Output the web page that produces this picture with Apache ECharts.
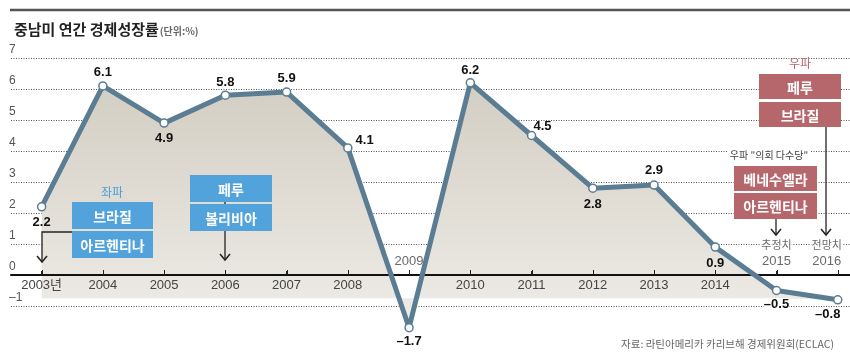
<!DOCTYPE html>
<html><head><meta charset="utf-8">
<script src="https://cdn.jsdelivr.net/npm/echarts@6/dist/echarts.min.js"></script>
<style>html,body{margin:0;padding:0;background:#fff}#c{width:850px;height:359px}</style>
</head><body><div id="c"></div>
<script>
// ---- data ----
const years = [2003, 2004, 2005, 2006, 2007, 2008, 2009, 2010, 2011, 2012, 2013, 2014, 2015, 2016];
const growth = [2.2, 6.1, 4.9, 5.8, 5.9, 4.1, -1.7, 6.2, 4.5, 2.8, 2.9, 0.9, -0.5, -0.8];
const yTickValues = [-1, 0, 1, 2, 3, 4, 5, 6, 7];
const belowYearLabels = [2003, 2004, 2005, 2006, 2007, 2008, 2010, 2011, 2012, 2013, 2014];
const aboveYearLabels = [2009, 2015, 2016];
const yearNotes = {2015: '추정치', 2016: '전망치'};
const firstYearSuffix = '년';
const titleText = '중남미 연간 경제성장률';
const unitText = '(단위:%)';
const sourceText = '자료: 라틴아메리카 카리브해 경제위원회(ECLAC)';
const leftHeader = '좌파';
const leftGroup1 = ['브라질', '아르헨티나'];
const leftGroup2 = ['페루', '볼리비아'];
const rightHeader = '우파';
const rightGroup1 = ['페루', '브라질'];
const rightNote = '우파 "의회 다수당"';
const rightGroup2 = ['베네수엘라', '아르헨티나'];

// ---- styling ----
const NUM = "'Liberation Sans', 'Noto Sans CJK KR', sans-serif";
const KR = "'Noto Sans CJK KR', 'Liberation Sans', sans-serif";
const LINE = '#5b7d93';
const BLUE = '#52a2dc';
const ROSE = '#b5676c';
const X_MIN = 2002.5, X_MAX = 2016.2;
const W = 850, H = 359, G_LEFT = 11, G_TOP = 58, G0_BOTTOM = 84, G1_BOTTOM = 22;
const fmt = v => String(v).replace('-', '–');

const labelCfg = [
  {position: 'bottom', distance: 4},
  {position: 'top', distance: 2},
  {position: 'bottom', distance: 4},
  {position: 'top', distance: 2},
  {position: 'top', distance: 2},
  {position: 'right', distance: 3, offset: [0, -7]},
  {position: 'bottom', distance: 2, backgroundColor: '#fff'},
  {position: 'top', distance: 1},
  {position: 'top', distance: 1, offset: [11, 3]},
  {position: 'bottom', distance: 5},
  {position: 'top', distance: 3},
  {position: 'bottom', distance: 5},
  {position: 'bottom', distance: 3, backgroundColor: '#fff'},
  {position: 'bottom', distance: 3, offset: [-10, 0], backgroundColor: '#fff'}
];

const pts = years.map((y, i) => [y, growth[i]]);
const lineData = years.map((y, i) => ({value: [y, growth[i]], label: labelCfg[i]}));

const chart = echarts.init(document.getElementById('c'), null, {renderer: 'canvas'});

function box(x, y, w, h, color, text) {
  return [
    {type: 'rect', shape: {x: x, y: y, width: w, height: h}, style: {fill: color}, z: 20},
    {type: 'text', x: x + w / 2, y: y + h / 2 + 1, z: 21,
     style: {text: text, fill: '#fff', font: 'bold 14px ' + KR, align: 'center', verticalAlign: 'middle'}}
  ];
}
function arrow(points) {
  const tip = points[points.length - 1];
  return [
    {type: 'polyline', shape: {points: points}, style: {stroke: '#222', lineWidth: 1.3, fill: null}, z: 19},
    {type: 'polyline', shape: {points: [[tip[0] - 5, tip[1] - 6], tip, [tip[0] + 5, tip[1] - 6]]},
     style: {stroke: '#222', lineWidth: 1.5, fill: null}, z: 19}
  ];
}

const graphics = [
  {type: 'line', shape: {x1: 10, y1: 10, x2: 850, y2: 10}, style: {stroke: '#555', lineWidth: 2.5}},
  {type: 'text', x: 112, y: 192, z: 21, style: {text: leftHeader, fill: '#4a9fd9', font: '12px ' + KR, align: 'center', verticalAlign: 'middle'}},
  ...box(72, 202, 81, 27, BLUE, leftGroup1[0]),
  ...box(72, 231, 81, 27, BLUE, leftGroup1[1]),
  ...arrow([[72, 232], [42, 232], [42, 262]]),
  ...arrow([[225, 202], [225, 260]]),
  ...box(190, 175, 82, 27, BLUE, leftGroup2[0]),
  ...box(190, 204, 82, 27, BLUE, leftGroup2[1]),
  {type: 'text', x: 800, y: 63, z: 21, style: {text: rightHeader, fill: ROSE, font: '12px ' + KR, align: 'center', verticalAlign: 'middle'}},
  ...box(759, 74, 82, 25, ROSE, rightGroup1[0]),
  ...box(759, 102, 82, 25, ROSE, rightGroup1[1]),
  ...arrow([[826, 127], [826, 235]]),
  {type: 'text', x: 769, y: 155, z: 21, style: {text: rightNote, fill: '#444', font: '10px ' + KR, align: 'center', verticalAlign: 'middle', backgroundColor: '#fff', padding: [1, 2]}},
  ...box(734, 166, 83, 25, ROSE, rightGroup2[0]),
  ...box(734, 193, 83, 26, ROSE, rightGroup2[1]),
  ...arrow([[776, 219], [776, 235]])
];

const option = {
  backgroundColor: '#fff',
  animation: false,
  title: [
    {text: '{a|' + titleText + '}{b|' + unitText + '}', left: 9, top: 17,
     textStyle: {rich: {
       a: {fontSize: 15, fontWeight: 'bold', color: '#222', fontFamily: KR},
       b: {fontSize: 10, color: '#666', fontFamily: KR, padding: [4, 0, 0, 1]}
     }}},
    {text: sourceText, right: 11, top: 334,
     textStyle: {fontSize: 10.5, fontWeight: 'normal', color: '#666', fontFamily: KR}}
  ],
  grid: [
    {left: G_LEFT, right: 0, top: G_TOP, bottom: G0_BOTTOM, containLabel: false, outerBoundsMode: 'none'},
    {left: G_LEFT, right: 0, top: G_TOP, bottom: G1_BOTTOM, containLabel: false, outerBoundsMode: 'none'}
  ],
  xAxis: [
    {
      gridIndex: 0, type: 'value', min: X_MIN, max: X_MAX, position: 'bottom', z: 5,
      axisLine: {show: true, lineStyle: {color: '#111', width: 2}},
      axisTick: {show: true, inside: true, length: 4, customValues: years, lineStyle: {color: '#222', width: 1}},
      axisLabel: {customValues: belowYearLabels, margin: 4, fontSize: 13, color: '#444', fontFamily: NUM,
        formatter: v => (v === years[0] ? v + firstYearSuffix : String(v))},
      splitLine: {show: false}
    },
    {gridIndex: 1, type: 'value', min: X_MIN, max: X_MAX, show: false, splitLine: {show: false}}
  ],
  yAxis: [
    {gridIndex: 0, type: 'value', min: 0, max: 7, show: false, splitLine: {show: false}},
    {
      gridIndex: 1, type: 'value', min: -2, max: 7, interval: 1,
      axisLine: {show: false}, axisTick: {show: false},
      axisLabel: {inside: true, margin: -2, align: 'left', verticalAlign: 'bottom', fontSize: 12, color: '#555',
        fontFamily: NUM, padding: [0, 0, 2, 0],
        formatter: v => (yTickValues.indexOf(v) >= 0 ? fmt(v) : '')},
      splitLine: {show: true, lineStyle: {type: [1, 1.5], width: 1.1,
        color: ['rgba(0,0,0,0)', '#555', '#555', '#555', '#555', '#555', '#555', '#555', '#555', '#555']}}
    }
  ],
  series: [
    {
      type: 'line', xAxisIndex: 1, yAxisIndex: 1, data: pts, z: 1, silent: true, symbol: 'none',
      lineStyle: {width: 0, opacity: 0},
      areaStyle: {origin: -0.75, opacity: 1,
        color: new echarts.graphic.LinearGradient(0, 0, 0, 1, [
          {offset: 0, color: '#d3cec3'}, {offset: 1, color: '#efede8'}])}
    },
    {
      type: 'line', xAxisIndex: 1, yAxisIndex: 1, data: lineData, z: 6,
      symbol: 'circle', symbolSize: 8,
      lineStyle: {color: LINE, width: 5},
      itemStyle: {color: '#fff', borderColor: LINE, borderWidth: 1.5},
      label: {show: true, fontSize: 13, fontWeight: 'bold', color: '#111', fontFamily: NUM,
        formatter: p => fmt(p.value[1])}
    },
    {
      type: 'scatter', xAxisIndex: 1, yAxisIndex: 1, z: 7, silent: true, symbolSize: 0,
      data: aboveYearLabels.map(y => ({value: [y, 0], label: y === 2016 ? {offset: [-11, 0]} : {}})),
      label: {show: true, position: 'top', distance: 6,
        formatter: p => {
          const y = p.value[0];
          return yearNotes[y] ? '{n|' + yearNotes[y] + '}\n{y|' + y + '}' : '{y|' + y + '}';
        },
        rich: {
          n: {fontSize: 11, color: '#444', fontFamily: KR, backgroundColor: '#fff', lineHeight: 17, padding: [0, 1]},
          y: {fontSize: 13, color: '#444', fontFamily: NUM, lineHeight: 16}
        }}
    }
  ],
  graphic: graphics
};
chart.setOption(option);

// zero baseline and year ticks, placed through the chart's own scales (with a layout fallback)
function toPx(x, y) {
  let p = null;
  try { p = chart.convertToPixel({seriesIndex: 1}, [x, y]); } catch (e) { p = null; }
  if (!p || !isFinite(p[0]) || !isFinite(p[1])) {
    const plotW = W - G_LEFT, plotH = H - G_TOP - G1_BOTTOM;
    p = [G_LEFT + (x - X_MIN) / (X_MAX - X_MIN) * plotW, G_TOP + (7 - y) / 9 * plotH];
  }
  return p;
}
const p0 = toPx(X_MIN, 0), p1 = toPx(X_MAX, 0);
const yBase = Math.round(p0[1]);
const axisGraphics = [
  {type: 'line', z: 5, shape: {x1: p0[0], y1: yBase, x2: p1[0], y2: yBase}, style: {stroke: '#111', lineWidth: 2}}
];
years.forEach(y => {
  const x = Math.round(toPx(y, 0)[0]) + 0.5;
  axisGraphics.push({type: 'line', z: 5, shape: {x1: x, y1: yBase, x2: x, y2: yBase - 5},
    style: {stroke: '#222', lineWidth: 1}});
});
chart.setOption({graphic: graphics.concat(axisGraphics)});
</script>
</body></html>
